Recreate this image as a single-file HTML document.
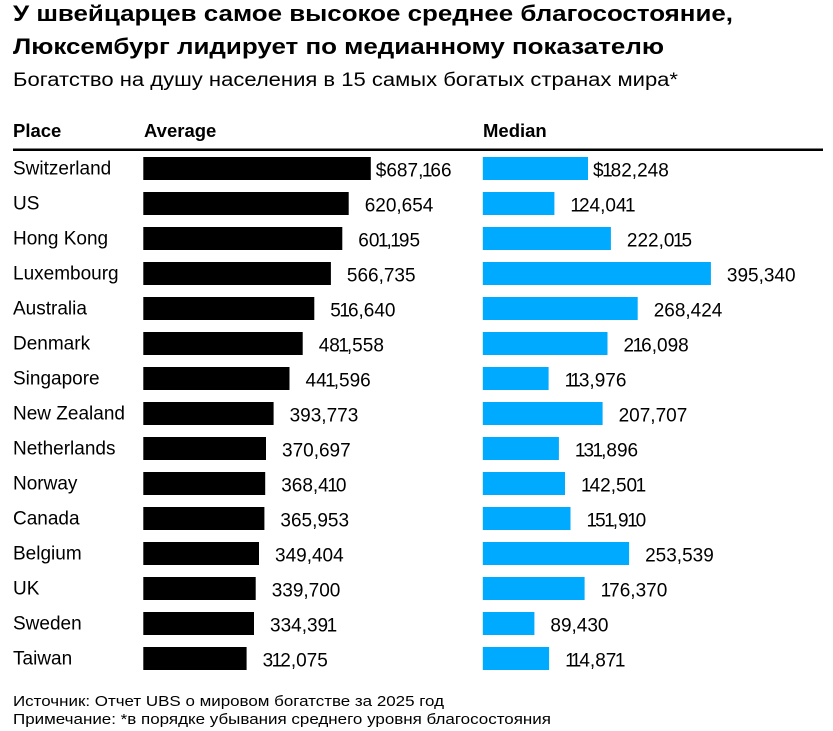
<!DOCTYPE html>
<html>
<head>
<meta charset="utf-8">
<style>
  html,body{margin:0;padding:0;background:#fff;}
  svg{display:block;}
  text{font-family:"Liberation Sans",Arial,sans-serif;fill:#000;}
  .t{font-weight:bold;font-size:22.5px;}
  .s{font-size:19px;}
  .h{font-weight:bold;font-size:18.5px;}
  .c{font-size:19px;}
  .n{font-size:19px;}
  .f{font-size:15px;}
</style>
</head>
<body>
<svg width="833" height="731" viewBox="0 0 833 731" xmlns="http://www.w3.org/2000/svg">
  <rect x="0" y="0" width="833" height="731" fill="#fff"/>
  <text class="t" x="13" y="21" textLength="720" lengthAdjust="spacingAndGlyphs">У швейцарцев самое высокое среднее благосостояние,</text>
  <text class="t" x="13" y="54" textLength="651" lengthAdjust="spacingAndGlyphs">Люксембург лидирует по медианному показателю</text>
  <text class="s" x="13" y="86" textLength="665" lengthAdjust="spacingAndGlyphs">Богатство на душу населения в 15 самых богатых странах мира*</text>

  <text class="h" x="13" y="137">Place</text>
  <text class="h" x="144" y="137">Average</text>
  <text class="h" x="483" y="137">Median</text>
  <rect x="13" y="148.5" width="810" height="2.5" fill="#000"/>

  <g>
    <text class="c" x="13" y="174.5">Switzerland</text>
    <rect x="143.3" y="157" width="227.5" height="23" fill="#000"/>
    <text class="n" x="375.8" y="176.5">$687,<tspan dx="-1.5">1</tspan><tspan dx="-2">66</tspan></text>
    <rect x="482.8" y="157" width="105.2" height="23" fill="#00aaff"/>
    <text class="n" x="593" y="176.5">$<tspan dx="-1.5">1</tspan><tspan dx="-2">82,248</tspan></text>

    <text class="c" x="13" y="209.5">US</text>
    <rect x="143.3" y="192" width="205.4" height="23" fill="#000"/>
    <text class="n" x="364.7" y="211.5">620,654</text>
    <rect x="482.8" y="192" width="71.6" height="23" fill="#00aaff"/>
    <text class="n" x="571.9" y="211.5"><tspan dx="-1.5">1</tspan><tspan dx="-2">24,04</tspan><tspan dx="-1.5">1</tspan></text>

    <text class="c" x="13" y="244.5">Hong Kong</text>
    <rect x="143.3" y="227" width="199.0" height="23" fill="#000"/>
    <text class="n" x="358.3" y="246.5">60<tspan dx="-1.5">1</tspan><tspan dx="-2">,</tspan><tspan dx="-1.5">1</tspan><tspan dx="-2">95</tspan></text>
    <rect x="482.8" y="227" width="128.1" height="23" fill="#00aaff"/>
    <text class="n" x="626.9" y="246.5">222,0<tspan dx="-1.5">1</tspan><tspan dx="-2">5</tspan></text>

    <text class="c" x="13" y="279.5">Luxembourg</text>
    <rect x="143.3" y="262" width="187.6" height="23" fill="#000"/>
    <text class="n" x="346.9" y="281.5">566,735</text>
    <rect x="482.8" y="262" width="228.1" height="23" fill="#00aaff"/>
    <text class="n" x="726.9" y="281.5">395,340</text>

    <text class="c" x="13" y="314.5">Australia</text>
    <rect x="143.3" y="297" width="171.0" height="23" fill="#000"/>
    <text class="n" x="330.3" y="316.5">5<tspan dx="-1.5">1</tspan><tspan dx="-2">6,640</tspan></text>
    <rect x="482.8" y="297" width="154.9" height="23" fill="#00aaff"/>
    <text class="n" x="653.7" y="316.5">268,424</text>

    <text class="c" x="13" y="349.5">Denmark</text>
    <rect x="143.3" y="332" width="159.4" height="23" fill="#000"/>
    <text class="n" x="318.7" y="351.5">48<tspan dx="-1.5">1</tspan><tspan dx="-2">,558</tspan></text>
    <rect x="482.8" y="332" width="124.7" height="23" fill="#00aaff"/>
    <text class="n" x="623.5" y="351.5">2<tspan dx="-1.5">1</tspan><tspan dx="-2">6,098</tspan></text>

    <text class="c" x="13" y="384.5">Singapore</text>
    <rect x="143.3" y="367" width="146.2" height="23" fill="#000"/>
    <text class="n" x="305.5" y="386.5">44<tspan dx="-1.5">1</tspan><tspan dx="-2">,596</tspan></text>
    <rect x="482.8" y="367" width="65.8" height="23" fill="#00aaff"/>
    <text class="n" x="566.1" y="386.5"><tspan dx="-1.5">1</tspan><tspan dx="-3.5">1</tspan><tspan dx="-2">3,976</tspan></text>

    <text class="c" x="13" y="419.5">New Zealand</text>
    <rect x="143.3" y="402" width="130.3" height="23" fill="#000"/>
    <text class="n" x="289.6" y="421.5">393,773</text>
    <rect x="482.8" y="402" width="119.8" height="23" fill="#00aaff"/>
    <text class="n" x="618.6" y="421.5">207,707</text>

    <text class="c" x="13" y="454.5">Netherlands</text>
    <rect x="143.3" y="437" width="122.7" height="23" fill="#000"/>
    <text class="n" x="282" y="456.5">370,697</text>
    <rect x="482.8" y="437" width="76.1" height="23" fill="#00aaff"/>
    <text class="n" x="576.4" y="456.5"><tspan dx="-1.5">1</tspan><tspan dx="-2">3</tspan><tspan dx="-1.5">1</tspan><tspan dx="-2">,896</tspan></text>

    <text class="c" x="13" y="489.5">Norway</text>
    <rect x="143.3" y="472" width="121.9" height="23" fill="#000"/>
    <text class="n" x="281.2" y="491.5">368,4<tspan dx="-1.5">1</tspan><tspan dx="-2">0</tspan></text>
    <rect x="482.8" y="472" width="82.2" height="23" fill="#00aaff"/>
    <text class="n" x="582.5" y="491.5"><tspan dx="-1.5">1</tspan><tspan dx="-2">42,50</tspan><tspan dx="-1.5">1</tspan></text>

    <text class="c" x="13" y="524.5">Canada</text>
    <rect x="143.3" y="507" width="121.1" height="23" fill="#000"/>
    <text class="n" x="280.4" y="526.5">365,953</text>
    <rect x="482.8" y="507" width="87.7" height="23" fill="#00aaff"/>
    <text class="n" x="588" y="526.5"><tspan dx="-1.5">1</tspan><tspan dx="-2">5</tspan><tspan dx="-1.5">1</tspan><tspan dx="-2">,9</tspan><tspan dx="-1.5">1</tspan><tspan dx="-2">0</tspan></text>

    <text class="c" x="13" y="559.5">Belgium</text>
    <rect x="143.3" y="542" width="115.7" height="23" fill="#000"/>
    <text class="n" x="275" y="561.5">349,404</text>
    <rect x="482.8" y="542" width="146.3" height="23" fill="#00aaff"/>
    <text class="n" x="645.1" y="561.5">253,539</text>

    <text class="c" x="13" y="594.5">UK</text>
    <rect x="143.3" y="577" width="112.4" height="23" fill="#000"/>
    <text class="n" x="271.7" y="596.5">339,700</text>
    <rect x="482.8" y="577" width="101.8" height="23" fill="#00aaff"/>
    <text class="n" x="602.1" y="596.5"><tspan dx="-1.5">1</tspan><tspan dx="-2">76,370</tspan></text>

    <text class="c" x="13" y="629.5">Sweden</text>
    <rect x="143.3" y="612" width="110.7" height="23" fill="#000"/>
    <text class="n" x="270" y="631.5">334,39<tspan dx="-1.5">1</tspan></text>
    <rect x="482.8" y="612" width="51.6" height="23" fill="#00aaff"/>
    <text class="n" x="550.4" y="631.5">89,430</text>

    <text class="c" x="13" y="664.5">Taiwan</text>
    <rect x="143.3" y="647" width="103.3" height="23" fill="#000"/>
    <text class="n" x="262.6" y="666.5">3<tspan dx="-1.5">1</tspan><tspan dx="-2">2,075</tspan></text>
    <rect x="482.8" y="647" width="66.3" height="23" fill="#00aaff"/>
    <text class="n" x="566.6" y="666.5"><tspan dx="-1.5">1</tspan><tspan dx="-3.5">1</tspan><tspan dx="-2">4,87</tspan><tspan dx="-1.5">1</tspan></text>
  </g>

  <text class="f" x="13" y="706" textLength="431" lengthAdjust="spacingAndGlyphs">Источник: Отчет UBS о мировом богатстве за 2025 год</text>
  <text class="f" x="13" y="724" textLength="538" lengthAdjust="spacingAndGlyphs">Примечание: *в порядке убывания среднего уровня благосостояния</text>
</svg>
</body>
</html>
